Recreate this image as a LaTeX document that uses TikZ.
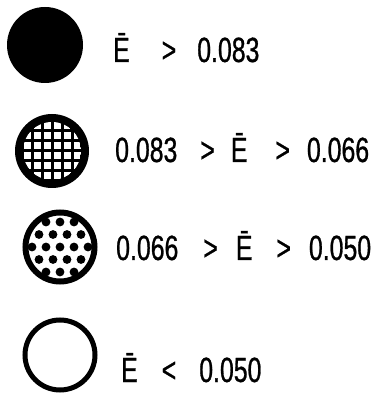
\documentclass[tikz,border=0pt]{standalone}
\usepackage{fontspec}
\setmainfont{Liberation Sans}[FakeStretch=0.71,FakeBold=0.8]
\usepackage{tikz}

\begin{document}
\begin{tikzpicture}[
  x=1pt,y=1pt,
  label/.style={anchor=base west,inner sep=0pt,font=\fontsize{35}{38}\selectfont},
  solid disc/.style={fill=black},
  ring/.style={draw=black,line width=5pt},
  hole/.style={fill=white}
]
\useasboundingbox (0,0) rectangle (380,394);
% symbols
\fill[solid disc] (45,349) circle (38) coordinate (d1);
\fill[solid disc] (52,243) circle (37) coordinate (d2);
\begin{scope}
  \clip (52,243) circle (29);
  \foreach \i in {-3,...,2}
    \foreach \j in {-3,...,2}
      \fill[hole] ({52+10*\i+1.5},{243+10*\j+1.5}) rectangle ++(7,7);
\end{scope}
\fill[white] (60,147) circle (33);
\begin{scope}
  \clip (60,147) circle (32);
  \foreach \i in {-3,...,3}
    \foreach \j in {-3,...,3}
      \fill ({60+14*\i+7*mod(abs(\j),2)},{147+12.5*\j}) circle (4.4);
\end{scope}
\draw[ring,line width=6pt] (60,147) circle (34.5) coordinate (d3);
\draw[ring] (60,39) circle (35) coordinate (d4);
% labels
\node[label] (t1) at (113,332) {Ē\hspace{32pt}>\hspace{21pt}0.083};
\node[label] (t2) at (115,232) {0.083\hspace{23pt}>\hspace{16pt}Ē\hspace{28pt}>\hspace{17pt}0.066};
\node[label] (t3) at (116,134) {0.066\hspace{25pt}>\hspace{18pt}Ē\hspace{24pt}>\hspace{18pt}0.050};
\node[label] (t4) at (121,12) {Ē\hspace{24pt}<\hspace{23pt}0.050};
\end{tikzpicture}
\end{document}
